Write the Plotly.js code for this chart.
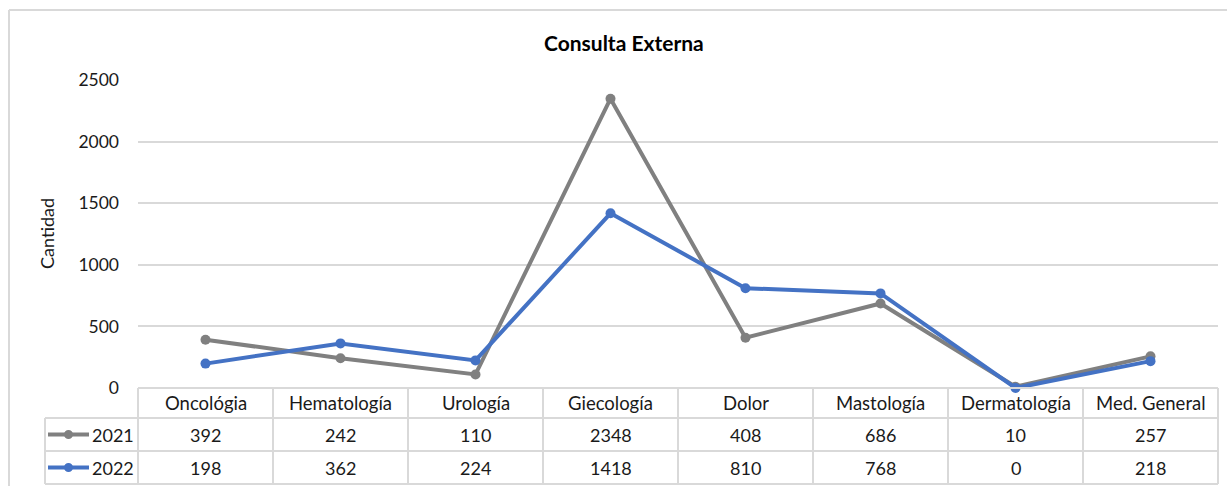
<!DOCTYPE html>
<html>
<head>
<meta charset="utf-8">
<script src="https://cdn.plot.ly/plotly-3.0.1.min.js"></script>
<style>html,body{margin:0;padding:0;background:#fff;} #chart{width:1227px;height:486px;}</style>
</head>
<body>
<div id="chart"></div>
<script>
const categories = ["Oncológia", "Hematología", "Urología", "Giecología", "Dolor", "Mastología", "Dermatología", "Med. General"];
const seriesNames = ["2021", "2022"];
const values2021 = [392, 242, 110, 2348, 408, 686, 10, 257];
const values2022 = [198, 362, 224, 1418, 810, 768, 0, 218];
const yTicks = [0, 500, 1000, 1500, 2000, 2500];
const chartTitle = "Consulta Externa";
const yTitle = "Cantidad";

const W = 1227, H = 486;
const px = x => x / W;
const py = y => 1 - y / H;
const FONT = "Lato, 'Open Sans', sans-serif";
const TXT = "#1a1a1a";
const GRID = "#d9d9d9";
const colors = ["#808080", "#4472c4"];
const allSeries = [values2021, values2022];

const plotL = 138, plotR = 1218, plotT = 80, plotB = 388;
const colW = (plotR - plotL) / categories.length;
const rowTops = [388, 418, 451, 484];
const legL = 45;

const traces = allSeries.map((vals, i) => ({
  type: "scatter", mode: "lines+markers",
  x: categories.map((c, k) => k), y: vals, name: seriesNames[i],
  line: {color: colors[i], width: 4},
  marker: {color: colors[i], size: 10},
  cliponaxis: false, showlegend: false, hoverinfo: "skip"
}));

const shapes = [];
const annotations = [];
// outer chart border
shapes.push({type: "line", xref: "paper", yref: "paper", x0: px(9), x1: px(1230), y0: py(10), y1: py(10), line: {color: GRID, width: 2}});
shapes.push({type: "line", xref: "paper", yref: "paper", x0: px(9), x1: px(9), y0: py(10), y1: py(490), line: {color: GRID, width: 2}});
// table horizontal lines
shapes.push({type: "line", xref: "paper", yref: "paper", x0: px(plotL), x1: px(plotR), y0: py(rowTops[0]), y1: py(rowTops[0]), line: {color: GRID, width: 2}});
for (let r = 1; r < rowTops.length; r++) {
  shapes.push({type: "line", xref: "paper", yref: "paper", x0: px(legL), x1: px(plotR), y0: py(rowTops[r]), y1: py(rowTops[r]), line: {color: GRID, width: 2}});
}
// table vertical lines
shapes.push({type: "line", xref: "paper", yref: "paper", x0: px(legL), x1: px(legL), y0: py(rowTops[1]), y1: py(rowTops[3]), line: {color: GRID, width: 2}});
for (let c = 0; c <= categories.length; c++) {
  const x = plotL + c * colW;
  shapes.push({type: "line", xref: "paper", yref: "paper", x0: px(x), x1: px(x), y0: py(rowTops[0]), y1: py(rowTops[3]), line: {color: GRID, width: 2}});
}
// header labels
categories.forEach((c, k) => {
  annotations.push({xref: "paper", yref: "paper", x: px(plotL + (k + 0.5) * colW), y: py((rowTops[0] + rowTops[1]) / 2),
    text: c, showarrow: false, xanchor: "center", yanchor: "middle", font: {family: FONT, size: 18.5, color: TXT}});
});
// data rows
allSeries.forEach((vals, i) => {
  const yc = (rowTops[i + 1] + rowTops[i + 2]) / 2;
  vals.forEach((v, k) => {
    annotations.push({xref: "paper", yref: "paper", x: px(plotL + (k + 0.5) * colW), y: py(yc),
      text: String(v), showarrow: false, xanchor: "center", yanchor: "middle", font: {family: FONT, size: 18, color: TXT}});
  });
  // legend key
  shapes.push({type: "line", xref: "paper", yref: "paper", x0: px(48), x1: px(89), y0: py(yc), y1: py(yc), line: {color: colors[i], width: 4}});
  shapes.push({type: "circle", xref: "paper", yref: "paper", x0: px(64), x1: px(73), y0: py(yc - 4.5), y1: py(yc + 4.5), fillcolor: colors[i], line: {color: colors[i], width: 0}});
  annotations.push({xref: "paper", yref: "paper", x: px(90), y: py(yc), text: seriesNames[i], showarrow: false,
    xanchor: "left", yanchor: "middle", font: {family: FONT, size: 18, color: TXT}});
});
// title
annotations.push({xref: "paper", yref: "paper", x: px(624), y: py(43), text: "<b>" + chartTitle + "</b>", showarrow: false,
  xanchor: "center", yanchor: "middle", font: {family: FONT, size: 21, color: "#000"}});
// y title
annotations.push({xref: "paper", yref: "paper", x: px(47), y: py(234), text: yTitle, textangle: -90, showarrow: false,
  xanchor: "center", yanchor: "middle", font: {family: FONT, size: 18, color: TXT}});

const layout = {
  width: W, height: H,
  margin: {l: 0, r: 0, t: 0, b: 0},
  paper_bgcolor: "#fff", plot_bgcolor: "#fff",
  xaxis: {domain: [px(plotL), px(plotR)], range: [-0.5, categories.length - 0.5], showgrid: false, zeroline: false,
    showticklabels: false, showline: false, fixedrange: true},
  yaxis: {domain: [py(plotB), py(plotT)], range: [0, 2500], tickvals: yTicks, ticktext: yTicks.map(String),
    showgrid: true, gridcolor: GRID, gridwidth: 2, zeroline: false, showline: false, ticks: "",
    ticklabelstandoff: 18, tickfont: {family: FONT, size: 17.5, color: TXT}, fixedrange: true},
  shapes: shapes, annotations: annotations, showlegend: false
};
Plotly.newPlot("chart", traces, layout, {displayModeBar: false, staticPlot: true});
</script>
</body>
</html>
